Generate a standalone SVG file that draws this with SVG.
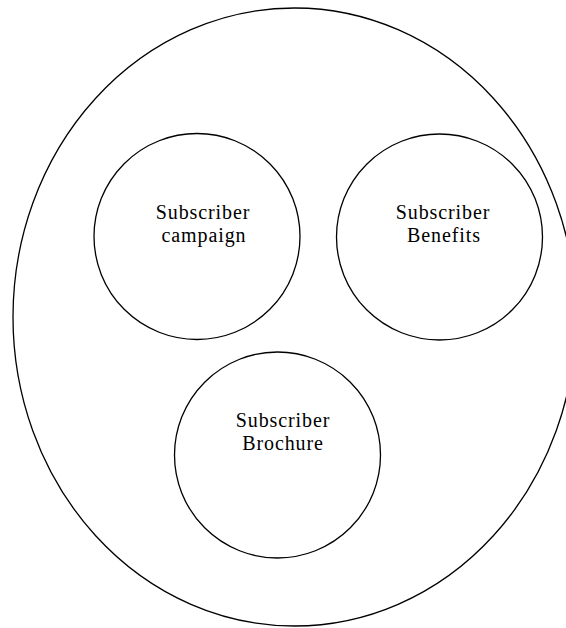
<svg xmlns="http://www.w3.org/2000/svg" width="566" height="628" viewBox="0 0 566 628">
<style>
.shape{fill:#fff;stroke:#000;stroke-width:1.3}
.lbl{font-family:"Liberation Serif","Times New Roman",serif;font-size:20px;letter-spacing:0.9px;fill:#000;text-anchor:middle}
</style>
<rect width="566" height="628" fill="#fff"/>
<g id="outer">
<ellipse class="shape" cx="294.5" cy="317" rx="281.5" ry="309"/>
</g>
<g id="connectors"></g>
<g id="node-campaign">
<circle class="shape" cx="197" cy="236.5" r="103"/>
<text class="lbl" x="203" y="219">Subscriber</text>
<text class="lbl" x="204" y="242">campaign</text>
</g>
<g id="node-benefits">
<circle class="shape" cx="439.5" cy="237" r="103"/>
<text class="lbl" x="443" y="219">Subscriber</text>
<text class="lbl" x="444" y="242">Benefits</text>
</g>
<g id="node-brochure">
<circle class="shape" cx="277.5" cy="455" r="103"/>
<text class="lbl" x="283" y="427">Subscriber</text>
<text class="lbl" x="283" y="450">Brochure</text>
</g>
</svg>
